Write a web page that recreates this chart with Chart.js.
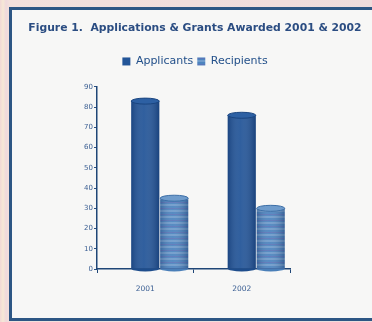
<!DOCTYPE html>
<html><head><meta charset="utf-8">
<script src="https://cdn.jsdelivr.net/npm/chart.js@4.4.1/dist/chart.umd.min.js"></script>
<style>
html,body{margin:0;padding:0;width:372px;height:322px;overflow:hidden;
 background:linear-gradient(90deg,#f1d8d6 0,#f6e8d6 3px,#efd9dc 6px,#f3e0dc 9px,#efdcdc 100%);}
#frame{position:absolute;left:9px;top:7px;width:372px;height:308px;border:3px solid #2d5684;background:#f7f7f6;}
canvas{position:absolute;left:0;top:0;}
</style></head><body>
<div id="frame"></div>
<canvas id="c" width="372" height="322"></canvas>
<script>
const categories = ['2001', '2002'];
const applicants = [83, 76];
const recipients = [35, 30];
const spacer = [null, null];
const yMax = 90;
const yStep = 10;
const titleText = 'Figure 1.  Applications & Grants Awarded 2001 & 2002';

Chart.defaults.font.family = 'DejaVu Sans';

function stripePattern(){
  const c = document.createElement('canvas'); c.width = 4; c.height = 6;
  const g = c.getContext('2d');
  g.fillStyle = '#4d84bf'; g.fillRect(0,0,4,6);
  g.fillStyle = '#6e9bcb'; g.fillRect(0,0,4,2);
  g.fillStyle = '#5a76b9'; g.fillRect(0,4,4,1);
  return g.createPattern(c, 'repeat');
}
const recipPattern = stripePattern();

const cylinderPlugin = {
  id: 'cyl',
  afterDatasetsDraw(chart){
    const ctx = chart.ctx;
    chart.data.datasets.forEach((ds, i) => {
      if (!ds.topColor) return;
      const meta = chart.getDatasetMeta(i);
      meta.data.forEach(bar => {
        const {x, y, base, width} = bar.getProps(['x','y','base','width'], true);
        const rx = width/2, ry = 3;
        ctx.save();
        const g = ctx.createLinearGradient(x-rx, 0, x+rx, 0);
        g.addColorStop(0, 'rgba(0,20,60,0.25)');
        g.addColorStop(0.45, 'rgba(255,255,255,0.06)');
        g.addColorStop(1, 'rgba(0,20,60,0.3)');
        ctx.fillStyle = g;
        ctx.fillRect(x-rx, y, width, base-y);
        ctx.beginPath(); ctx.ellipse(x, base, rx, ry, 0, 0, Math.PI);
        ctx.fillStyle = ds.sideColor; ctx.fill();
        ctx.beginPath(); ctx.ellipse(x, y, rx, ry, 0, 0, 2*Math.PI);
        ctx.fillStyle = ds.topColor; ctx.fill();
        ctx.strokeStyle = ds.edgeColor; ctx.lineWidth = 1; ctx.stroke();
        ctx.restore();
      });
    });
  }
};

const boxPlugin = {
  id: 'boxes',
  beforeUpdate(chart){
    const lg = chart.legend;
    if (lg && !lg._patched){
      const f = lg.fit;
      lg.fit = function(){ f.call(this); this.height += 10; };
      lg._patched = true;
    }
  },
  afterLayout(chart){
    [chart.titleBlock, chart.legend].forEach(b => {
      if (!b) return;
      b.left = 18; b.right = 372; b.width = 354;
    });
  }
};

new Chart(document.getElementById('c'), {
  type: 'bar',
  data: {
    labels: categories,
    datasets: [
      { label: '', data: spacer, backgroundColor: 'rgba(0,0,0,0)', borderWidth: 0 },
      { label: 'Applicants', data: applicants, backgroundColor: '#235598', borderWidth: 0,
        topColor: '#2d60a3', sideColor: '#1e4d8c', edgeColor: '#1a4580' },
      { label: 'Recipients', data: recipients, backgroundColor: recipPattern, borderWidth: 0,
        topColor: '#6f9ccc', sideColor: '#4a7fb8', edgeColor: '#3c6ea6' }
    ]
  },
  options: {
    responsive: false,
    animation: false,
    events: [],
    categoryPercentage: 0.9,
    barPercentage: 0.97,
    layout: { padding: { left: 18, right: 82, top: 22, bottom: 13 } },
    plugins: {
      title: { display: true, text: titleText, color: '#2b4d82',
        font: { size: 10.8, weight: 'bold' }, padding: { top: 0, bottom: 17 } },
      legend: { display: true, position: 'top',
        labels: { boxWidth: 8, boxHeight: 8, padding: 4, color: '#23508a', font: { size: 11 },
          filter: item => item.text !== '' } },
      tooltip: { enabled: false }
    },
    scales: {
      y: { min: 0, max: yMax,
        ticks: { stepSize: yStep, color: '#3b5f93', font: { size: 7 }, padding: 1 },
        grid: { display: true, drawOnChartArea: false, tickLength: 3, color: '#2a4f82' },
        border: { display: true, color: '#1f4677', width: 1.5 },
        afterFit(s){ s.width = 79; } },
      x: {
        ticks: { color: '#3b5f93', font: { size: 7.5 }, padding: 12 },
        grid: { display: true, drawOnChartArea: false, tickLength: 4, color: '#1f4677', offset: true },
        border: { display: true, color: '#1f4677', width: 1.5 },
        afterFit(s){ s.height = 40; } }
    }
  },
  plugins: [cylinderPlugin, boxPlugin]
});
</script></body></html>
